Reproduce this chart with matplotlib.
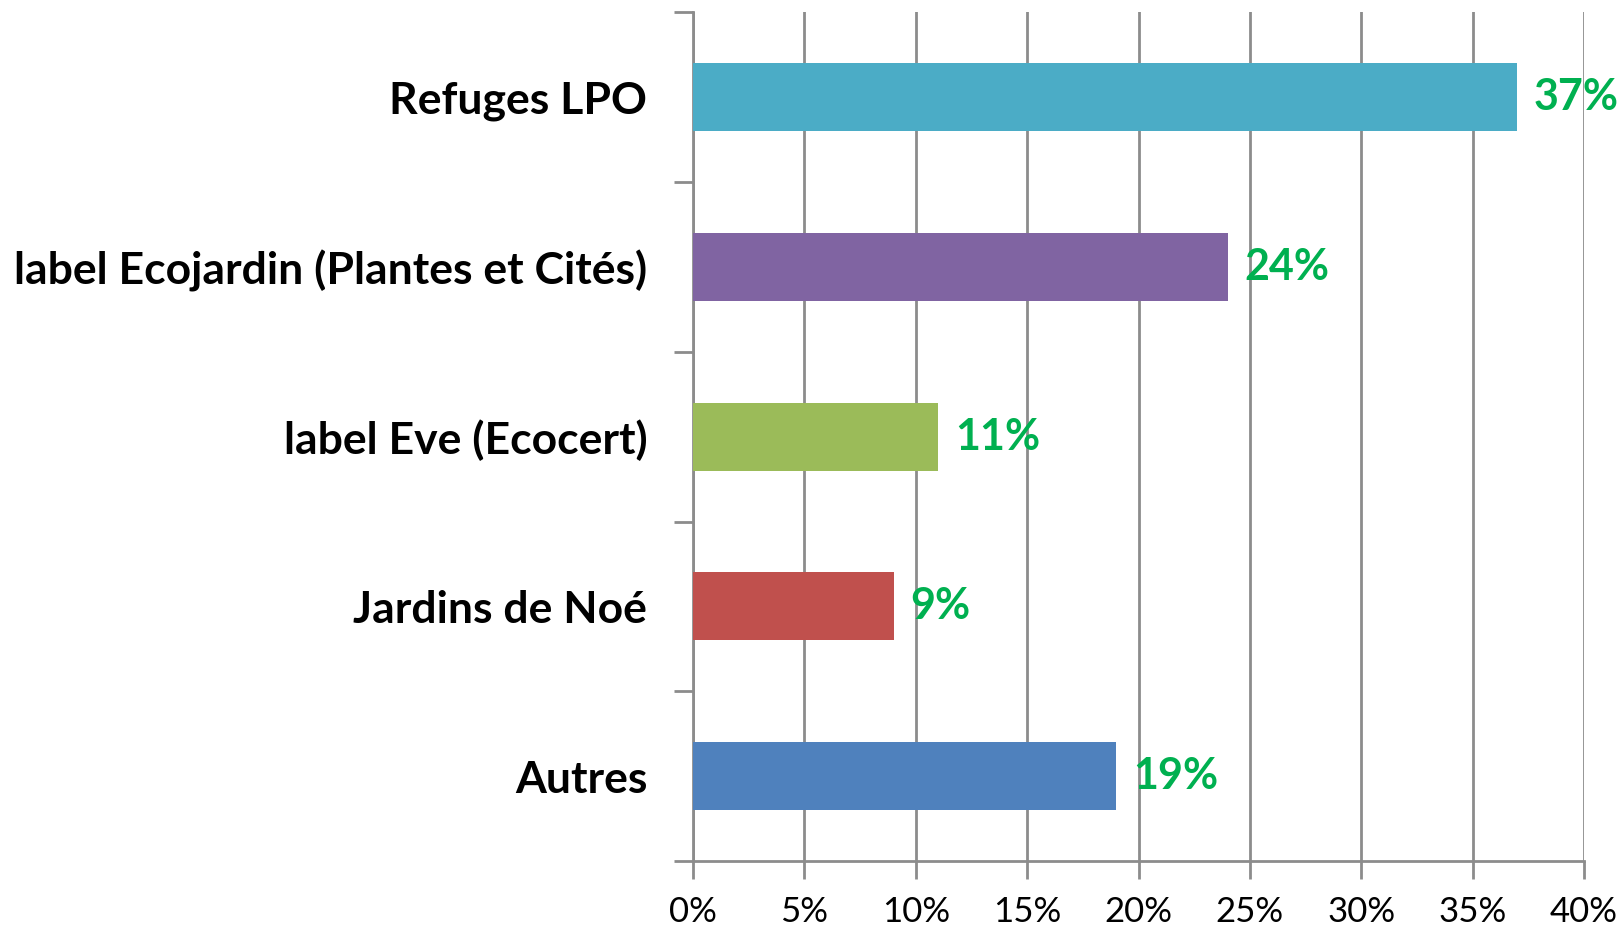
import matplotlib
matplotlib.use("Agg")
import matplotlib.pyplot as plt
from matplotlib.ticker import MultipleLocator, FixedLocator

# Data
categories = ["Refuges LPO", "label Ecojardin (Plantes et Cités)", "label Eve (Ecocert)",
              "Jardins de Noé", "Autres"]
values = [37, 24, 11, 9, 19]
bar_colors = ["#4BACC6", "#8064A2", "#9BBB59", "#C0504D", "#4F81BD"]
value_labels = ["37%", "24%", "11%", "9%", "19%"]

plt.rcParams["font.family"] = ["Lato", "DejaVu Sans"]
grey = "#8C8C8C"

fig = plt.figure(figsize=(16.22, 9.31), dpi=100)
ax = fig.add_axes([0.4273, 0.0752, 0.5493, 0.9115])

n = len(categories)
ypos = list(range(n))
ax.barh(ypos, values, height=0.4, color=bar_colors, zorder=3)
ax.set_ylim(n - 0.5, -0.5)
ax.set_xlim(0, 40)

# value labels
for y, v, lab in zip(ypos, values, value_labels):
    ax.text(v + 0.75, y, lab, va="center", ha="left", fontsize=31,
            fontweight="bold", color="#00B050", zorder=4)

# category labels placed at band centres, ticks at band boundaries
ax.yaxis.set_major_locator(FixedLocator([i - 0.5 for i in range(n + 1)]))
ax.yaxis.set_minor_locator(FixedLocator(ypos))
ax.set_yticklabels([])
ax.set_yticklabels(categories, minor=True, fontsize=32, fontweight="bold")
ax.tick_params(axis="y", which="major", length=14, width=2, color=grey)
ax.tick_params(axis="y", which="minor", length=0, pad=33)

ax.xaxis.set_major_locator(MultipleLocator(5))
ax.set_xticklabels([f"{int(t)}%" for t in ax.get_xticks()], fontsize=25)
ax.tick_params(axis="x", length=13, width=2, color=grey, pad=12)

ax.grid(axis="x", color=grey, linewidth=2, zorder=0)
for s in ["top", "right"]:
    ax.spines[s].set_visible(False)
for s in ["left", "bottom"]:
    ax.spines[s].set_color(grey)
    ax.spines[s].set_linewidth(2)

fig.savefig("out.png", dpi=100)
